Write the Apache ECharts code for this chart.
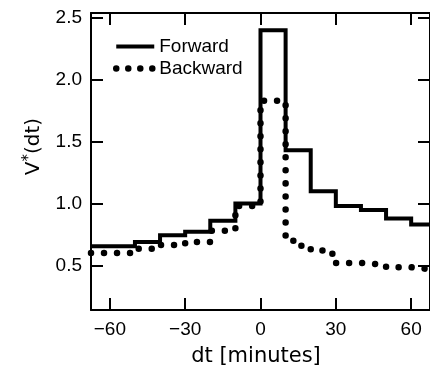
<!DOCTYPE html>
<html><head><meta charset="utf-8">
<script src="https://cdn.jsdelivr.net/npm/echarts@6.0.0/dist/echarts.min.js"></script>
<style>html,body{margin:0;padding:0;background:#fff}#c{width:430px;height:372px}</style>
</head><body><div id="c"></div>
<script>
const forwardEdges = [-67.5, -50, -40, -30, -20, -10, 0, 10, 20, 30, 40, 50, 60];
const forwardValues = [0.656, 0.69, 0.745, 0.772, 0.862, 1.0, 2.4, 1.43, 1.1, 0.98, 0.948, 0.88, 0.83];
const backwardEdges = [-67.5, -50, -40, -30, -20, -10, 0, 10, 15, 20, 25, 30, 40, 50, 60];
const backwardValues = [0.60, 0.635, 0.665, 0.69, 0.78, 0.98, 1.83, 0.70, 0.66, 0.62, 0.595, 0.52, 0.505, 0.485, 0.47];
const xEnd = 67.5;
const xRange = [-67.5, 67.5];
const yRange = [0.14, 2.54];
const xTicks = [-60, -30, 0, 30, 60];
const yTicks = [0.5, 1.0, 1.5, 2.0, 2.5];
const seriesNames = ['Forward', 'Backward'];

function stepData(edges, values) {
  const d = edges.map((e, i) => [e, values[i]]);
  d.push([xEnd, values[values.length - 1]]);
  return d;
}

const chart = echarts.init(document.getElementById('c'), null, {renderer: 'canvas'});
const axisLine = {show: true, onZero: false, lineStyle: {color: '#000', width: 2}};
const labelFont = {fontFamily: 'Liberation Sans', fontSize: 19, color: '#000'};
const nameFont = {fontFamily: 'DejaVu Sans', fontSize: 21, color: '#000'};

function xAx(pos, showLabel) {
  return {
    type: 'value', position: pos, min: xRange[0], max: xRange[1],
    axisLine: axisLine,
    axisTick: {show: true, inside: true, length: 12, customValues: xTicks, lineStyle: {color: '#000', width: 2}},
    axisLabel: Object.assign({show: showLabel, customValues: xTicks, margin: 10,
      formatter: v => String(v).replace('-', '\u2212')}, labelFont),
    splitLine: {show: false}
  };
}
function yAx(pos, showLabel) {
  return {
    type: 'value', position: pos, min: yRange[0], max: yRange[1],
    axisLine: axisLine,
    axisTick: {show: true, inside: true, length: 12, customValues: yTicks, lineStyle: {color: '#000', width: 2}},
    axisLabel: Object.assign({show: showLabel, customValues: yTicks, margin: 9,
      formatter: v => v.toFixed(1)}, labelFont),
    splitLine: {show: false}
  };
}

const xb = xAx('bottom', true);
xb.name = 'dt [minutes]';
xb.nameLocation = 'middle';
xb.nameGap = 36;
xb.nameTextStyle = Object.assign({padding: [0, 9, 0, 0]}, nameFont);
const xt = xAx('top', false);

const yl = yAx('left', true);
yl.name = '{v|V}{s|*}{p|(dt)}';
yl.nameLocation = 'middle';
yl.nameRotate = 90;
yl.nameGap = 46;
yl.nameTextStyle = Object.assign({padding: [0, 0, 0, 30],
  rich: {
    v: {fontFamily: 'DejaVu Sans', fontSize: 20, color: '#000'},
    s: {fontFamily: 'DejaVu Sans', fontSize: 15, color: '#000', verticalAlign: 'top', padding: [0, 0, 8, 0]},
    p: {fontFamily: 'DejaVu Sans', fontSize: 20, color: '#000'}
  }}, nameFont);
const yr = yAx('right', false);

chart.setOption({
  animation: false,
  backgroundColor: '#fff',
  grid: {left: 91, top: 13, width: 342, height: 297, containLabel: false},
  xAxis: [xb, xt],
  yAxis: [yl, yr],
  legend: {
    orient: 'vertical', left: 113, top: 37, padding: 0,
    itemWidth: 38, itemHeight: 14, itemGap: 3,
    textStyle: labelFont,
    itemStyle: {opacity: 0},
    data: [
      {name: seriesNames[0], lineStyle: {width: 4, color: '#000'}},
      {name: seriesNames[1], lineStyle: {type: [0.01, 12], width: 6.5, cap: 'round', color: '#000'}}
    ]
  },
  series: [
    {
      name: seriesNames[0], type: 'line', step: 'end', xAxisIndex: 0, yAxisIndex: 0,
      symbol: 'none', showSymbol: false, data: stepData(forwardEdges, forwardValues),
      lineStyle: {color: '#000', width: 4, join: 'miter'}, itemStyle: {color: '#000'}
    },
    {
      name: seriesNames[1], type: 'line', step: 'end', xAxisIndex: 0, yAxisIndex: 0,
      symbol: 'none', showSymbol: false, data: stepData(backwardEdges, backwardValues),
      lineStyle: {color: '#000', width: 6.5, type: [0.01, 13], cap: 'round'}, itemStyle: {color: '#000'}
    }
  ]
});
</script>
</body></html>
